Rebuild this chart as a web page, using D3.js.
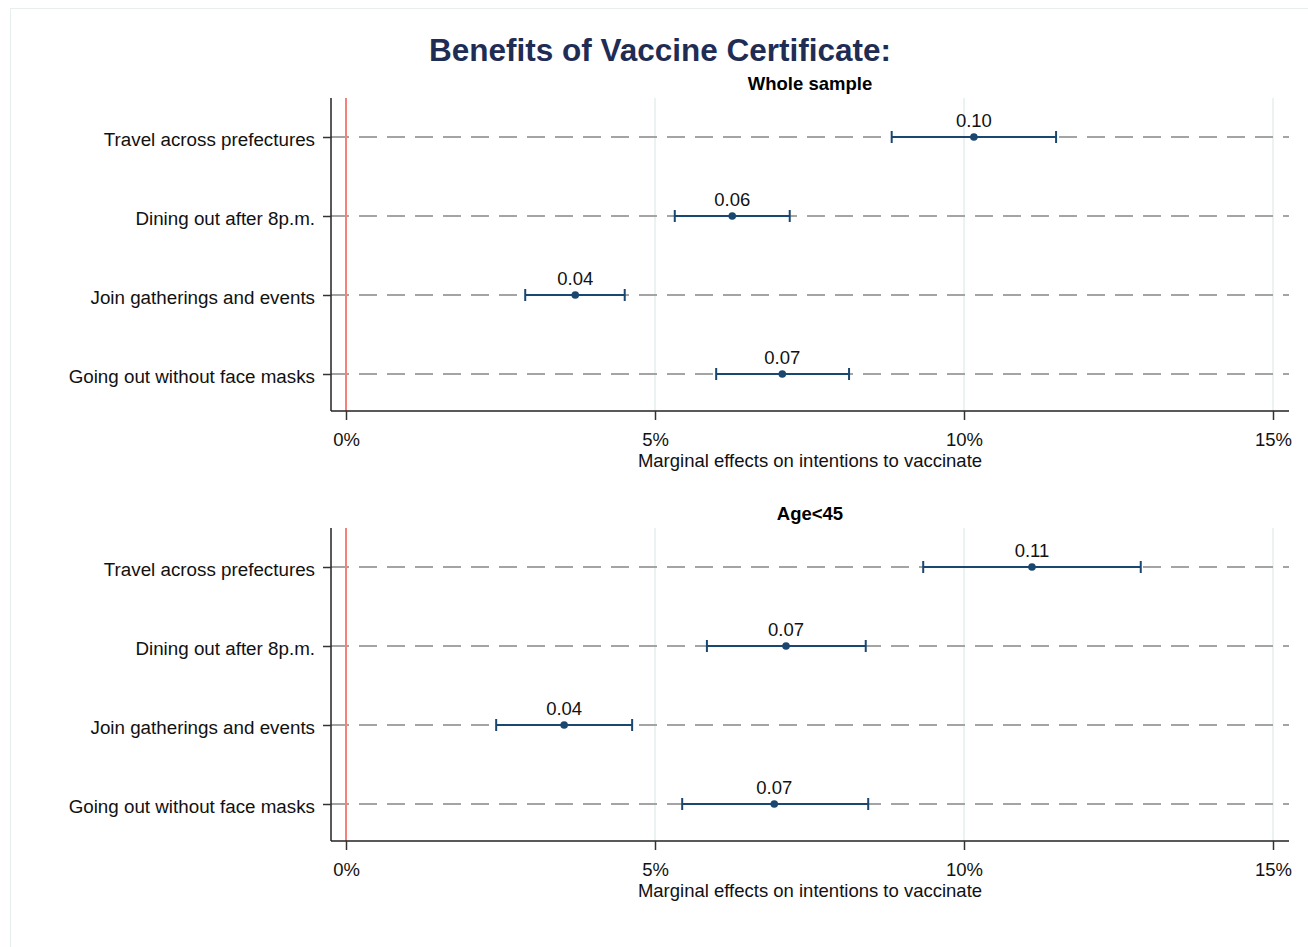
<!DOCTYPE html>
<html>
<head>
<meta charset="utf-8">
<script src="https://cdn.jsdelivr.net/npm/d3@7"></script>
<style>
  body { margin: 0; background: #fff; }
  svg { display: block; font-family: "Liberation Sans", Arial, sans-serif; }
</style>
</head>
<body>
<svg width="1308" height="947"></svg>
<script>
var categories = ["Travel across prefectures", "Dining out after 8p.m.", "Join gatherings and events", "Going out without face masks"];
var xTicks = [0, 5, 10, 15];
var panelTitles = ["Whole sample", "Age<45"];

// percent points: estimate, lower, upper, label
var wholeEst = [10.16, 6.25, 3.71, 7.06],
  wholeLo = [8.83, 5.32, 2.90, 5.99],
  wholeHi = [11.49, 7.18, 4.51, 8.14],
  wholeLabel = ["0.10", "0.06", "0.04", "0.07"];

var youngEst = [11.10, 7.12, 3.53, 6.93],
  youngLo = [9.34, 5.84, 2.43, 5.44],
  youngHi = [12.86, 8.41, 4.63, 8.45],
  youngLabel = ["0.11", "0.07", "0.04", "0.07"];

var svg = d3.select("svg");
var fs = "18.5px";

// faint frame round the figure
svg.append("rect")
  .attr("x", 10.5).attr("y", 8.5)
  .attr("width", 1310).attr("height", 960)
  .attr("fill", "none")
  .attr("stroke", "#e6eeee");

svg.append("text")
  .attr("x", 660).attr("y", 61)
  .attr("text-anchor", "middle")
  .attr("font-size", "31.5px")
  .attr("font-weight", "bold")
  .attr("fill", "#1f2d55")
  .text("Benefits of Vaccine Certificate:");

var x = d3.scaleLinear().domain([0, 15]).range([346, 1273]);
var axisLeft = 331, axisRight = 1289;

function panel(top, title, est, lo, hi, labels) {
  var bottom = top + 313;
  var y = d3.scalePoint().domain(categories).range([top + 39, bottom - 37]);
  var g = svg.append("g");
  var rows = categories.map((c, i) => ({cat: c, est: est[i], lo: lo[i], hi: hi[i], label: labels[i]}));

  g.append("text")
    .attr("x", (axisLeft + axisRight) / 2).attr("y", top - 8)
    .attr("text-anchor", "middle")
    .attr("font-size", fs).attr("font-weight", "bold")
    .text(title);

  // vertical grid
  g.selectAll(".grid")
    .data(xTicks.slice(1))
    .enter().append("line")
    .attr("x1", d => x(d)).attr("x2", d => x(d))
    .attr("y1", top).attr("y2", bottom)
    .attr("stroke", "#e4eeee").attr("stroke-width", 1.5);

  // dashed row lines
  g.selectAll(".row")
    .data(categories)
    .enter().append("line")
    .attr("x1", axisLeft).attr("x2", axisRight)
    .attr("y1", d => y(d)).attr("y2", d => y(d))
    .attr("stroke", "#a4a4a4").attr("stroke-width", 2)
    .attr("stroke-dasharray", "18,10");

  // zero reference
  g.append("line")
    .attr("x1", x(0)).attr("x2", x(0))
    .attr("y1", top).attr("y2", bottom)
    .attr("stroke", "#f2837b").attr("stroke-width", 2);

  // axes
  g.append("g")
    .attr("transform", "translate(0," + bottom + ")")
    .call(d3.axisBottom(x).tickValues(xTicks).tickFormat(d => d + "%").tickSize(9).tickSizeOuter(0).tickPadding(13))
    .call(a => a.select(".domain").attr("d", "M" + axisLeft + ",0H" + axisRight))
    .call(a => a.selectAll("line").attr("stroke", "#333").attr("stroke-width", 1.5))
    .call(a => a.selectAll("text").attr("font-size", fs).attr("fill", "#111").attr("font-family", "Liberation Sans, Arial, sans-serif"));

  g.append("g")
    .attr("transform", "translate(" + axisLeft + ",0)")
    .call(d3.axisLeft(y).tickSize(8).tickPadding(8))
    .call(a => a.select(".domain").attr("d", "M0," + top + "V" + bottom))
    .call(a => a.selectAll("line").attr("stroke", "#333").attr("stroke-width", 1.5))
    .call(a => a.selectAll("text").attr("font-size", "18.8px").attr("dy", "0.45em").attr("fill", "#111").attr("font-family", "Liberation Sans, Arial, sans-serif"));
  g.selectAll(".domain").attr("stroke", "#222").attr("stroke-width", 1.5);

  g.append("text")
    .attr("x", (axisLeft + axisRight) / 2).attr("y", bottom + 56)
    .attr("text-anchor", "middle")
    .attr("font-size", fs).attr("fill", "#111")
    .text("Marginal effects on intentions to vaccinate");

  // confidence intervals
  var ci = g.selectAll(".ci").data(rows).enter().append("g");
  ci.append("line")
    .attr("x1", d => x(d.lo)).attr("x2", d => x(d.hi))
    .attr("y1", d => y(d.cat)).attr("y2", d => y(d.cat))
    .attr("stroke", "#1a476f").attr("stroke-width", 2);
  ci.append("line")
    .attr("x1", d => x(d.lo)).attr("x2", d => x(d.lo))
    .attr("y1", d => y(d.cat) - 6).attr("y2", d => y(d.cat) + 6)
    .attr("stroke", "#1a476f").attr("stroke-width", 2);
  ci.append("line")
    .attr("x1", d => x(d.hi)).attr("x2", d => x(d.hi))
    .attr("y1", d => y(d.cat) - 6).attr("y2", d => y(d.cat) + 6)
    .attr("stroke", "#1a476f").attr("stroke-width", 2);
  ci.append("circle")
    .attr("cx", d => x(d.est)).attr("cy", d => y(d.cat))
    .attr("r", 3.8).attr("fill", "#1a476f");
  ci.append("text")
    .attr("x", d => x(d.est)).attr("y", d => y(d.cat) - 10)
    .attr("text-anchor", "middle")
    .attr("font-size", fs).attr("fill", "#111")
    .text(d => d.label);
}

panel(98, panelTitles[0], wholeEst, wholeLo, wholeHi, wholeLabel);
panel(528, panelTitles[1], youngEst, youngLo, youngHi, youngLabel);
</script>
</body>
</html>
